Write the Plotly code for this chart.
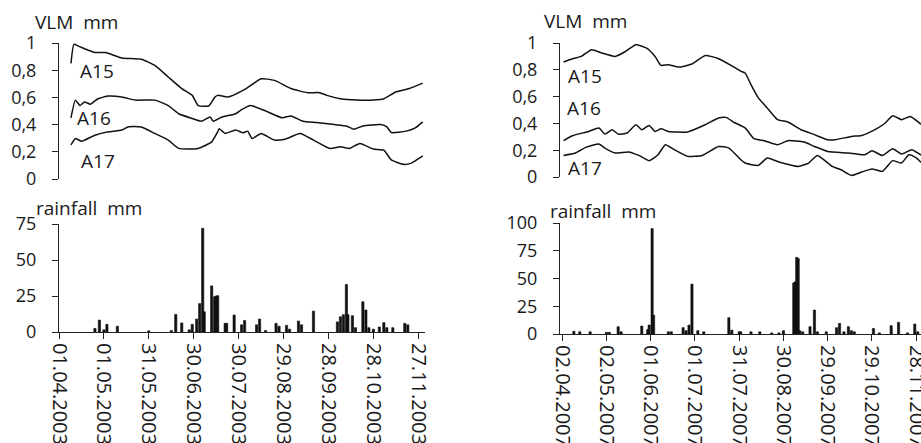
import plotly.graph_objects as go

W, H = 921, 443
FONT = "Open Sans"
INK = "#1a1a1a"

# ---------------- 2003 data ----------------
a15_2003_dates = ["2003-04-09","2003-04-11","2003-04-14","2003-04-21","2003-04-25","2003-05-02","2003-05-13","2003-05-26",
                  "2003-06-04","2003-06-13","2003-06-22","2003-06-29","2003-07-03","2003-07-10","2003-07-14","2003-07-16",
                  "2003-07-23","2003-08-04","2003-08-14","2003-08-23","2003-09-03","2003-09-14","2003-09-22","2003-09-27",
                  "2003-10-06","2003-10-17","2003-10-28","2003-11-04","2003-11-12","2003-11-21","2003-11-30"]
a15_2003 = [0.85,0.99,0.977,0.945,0.93,0.93,0.89,0.88,0.835,0.75,0.665,0.615,0.54,0.537,0.60,0.615,
            0.603,0.665,0.737,0.725,0.665,0.635,0.635,0.615,0.59,0.58,0.58,0.59,0.64,0.665,0.705]

a16_2003_dates = ["2003-04-09","2003-04-12","2003-04-15","2003-04-18","2003-04-22","2003-04-27","2003-05-04","2003-05-13",
                  "2003-05-22","2003-06-04","2003-06-13","2003-06-20","2003-06-29","2003-07-05","2003-07-11","2003-07-13",
                  "2003-07-19","2003-07-28","2003-08-01","2003-08-07","2003-08-16","2003-08-28","2003-09-03","2003-09-11",
                  "2003-09-20","2003-10-02","2003-10-10","2003-10-15","2003-10-21","2003-11-02","2003-11-06","2003-11-09",
                  "2003-11-19","2003-11-25","2003-11-30"]
a16_2003 = [0.45,0.58,0.54,0.567,0.55,0.59,0.61,0.603,0.58,0.58,0.54,0.48,0.445,0.425,0.456,0.425,
            0.456,0.48,0.51,0.54,0.505,0.45,0.464,0.425,0.415,0.40,0.39,0.366,0.39,0.40,0.383,0.342,
            0.352,0.376,0.42]

a17_2003_dates = ["2003-04-09","2003-04-12","2003-04-16","2003-04-25","2003-05-04","2003-05-13","2003-05-17","2003-05-26",
                  "2003-06-04","2003-06-13","2003-06-20","2003-07-03","2003-07-12","2003-07-16","2003-07-17","2003-07-21",
                  "2003-07-28","2003-08-02","2003-08-05","2003-08-08","2003-08-14","2003-08-23","2003-08-30","2003-09-09",
                  "2003-09-18","2003-09-29","2003-10-06","2003-10-12","2003-10-19","2003-10-28","2003-11-04","2003-11-09",
                  "2003-11-17","2003-11-22","2003-11-30"]
a17_2003 = [0.25,0.298,0.278,0.322,0.347,0.36,0.383,0.383,0.335,0.286,0.225,0.225,0.273,0.347,0.37,0.335,
            0.36,0.34,0.352,0.298,0.335,0.286,0.293,0.335,0.286,0.225,0.237,0.225,0.261,0.22,0.212,0.14,
            0.108,0.115,0.17]

rain_2003_dates = ["2003-04-25","2003-04-28","2003-05-01","2003-05-03","2003-05-10","2003-05-31","2003-06-15","2003-06-18",
                   "2003-06-22","2003-06-27","2003-06-29","2003-07-02","2003-07-04","2003-07-06","2003-07-07","2003-07-12",
                   "2003-07-14","2003-07-15","2003-07-16","2003-07-21","2003-07-22","2003-07-27","2003-08-01","2003-08-03",
                   "2003-08-11","2003-08-13","2003-08-17","2003-08-24","2003-08-26","2003-08-31","2003-09-02","2003-09-08",
                   "2003-09-10","2003-09-18","2003-10-04","2003-10-06","2003-10-08","2003-10-10","2003-10-11","2003-10-14",
                   "2003-10-16","2003-10-21","2003-10-23","2003-10-25","2003-10-28","2003-11-01","2003-11-04","2003-11-06",
                   "2003-11-10","2003-11-18","2003-11-20"]
rain_2003 = [2.5,8.3,1.5,5.3,4,0.8,1,12.2,6.3,1.5,5.3,9,19.7,72,14,32,
             24.5,25,25.2,6,6,11.8,5,8,5,9,1,6,4,4.6,2,7.6,
             5,14.5,7,10.6,12,33,12,11.3,3,21,15.3,3,2,3.5,6.5,3,
             3,6,5]

ticks_2003 = ["2003-04-01","2003-05-01","2003-05-31","2003-06-30","2003-07-30","2003-08-29","2003-09-28","2003-10-28","2003-11-27"]
ticklabels_2003 = ["01.04.2003","01.05.2003","31.05.2003","30.06.2003","30.07.2003","29.08.2003","28.09.2003","28.10.2003","27.11.2003"]

# ---------------- 2007 data ----------------
a15_2007_dates = ["2007-04-03","2007-04-09","2007-04-15","2007-04-22","2007-04-29","2007-05-08","2007-05-15","2007-05-22",
                  "2007-05-29","2007-06-04","2007-06-08","2007-06-13","2007-06-20","2007-06-29","2007-07-08","2007-07-17",
                  "2007-07-26","2007-08-01","2007-08-04","2007-08-08","2007-08-13","2007-08-19","2007-08-26","2007-09-02",
                  "2007-09-11","2007-09-20","2007-09-29","2007-10-04","2007-10-15","2007-10-22","2007-10-31","2007-11-07",
                  "2007-11-12","2007-11-18","2007-11-24","2007-12-01","2007-12-03"]
a15_2007 = [0.858,0.883,0.90,0.95,0.925,0.90,0.937,0.987,0.963,0.90,0.833,0.838,0.82,0.843,0.907,0.883,
            0.83,0.79,0.776,0.689,0.59,0.515,0.428,0.41,0.353,0.316,0.278,0.278,0.303,0.31,0.353,0.403,
            0.457,0.428,0.452,0.396,0.38]

a16_2007_dates = ["2007-04-03","2007-04-09","2007-04-20","2007-04-27","2007-05-01","2007-05-06","2007-05-10","2007-05-16",
                  "2007-05-22","2007-05-26","2007-05-31","2007-06-04","2007-06-08","2007-06-13","2007-06-26","2007-07-08",
                  "2007-07-17","2007-07-22","2007-07-28","2007-08-04","2007-08-10","2007-08-17","2007-08-26","2007-09-02",
                  "2007-09-13","2007-09-20","2007-09-29","2007-10-13","2007-10-24","2007-10-29","2007-11-05","2007-11-12",
                  "2007-11-18","2007-11-25","2007-12-01","2007-12-03"]
a16_2007 = [0.271,0.308,0.34,0.366,0.32,0.353,0.32,0.328,0.39,0.353,0.385,0.34,0.36,0.34,0.336,0.39,
            0.44,0.445,0.405,0.366,0.286,0.271,0.241,0.271,0.261,0.228,0.191,0.179,0.166,0.196,0.161,0.211,
            0.172,0.204,0.166,0.16]

a17_2007_dates = ["2007-04-03","2007-04-11","2007-04-18","2007-04-27","2007-05-01","2007-05-08","2007-05-17","2007-05-24",
                  "2007-05-31","2007-06-06","2007-06-11","2007-06-17","2007-06-26","2007-07-06","2007-07-17","2007-07-24",
                  "2007-08-01","2007-08-04","2007-08-13","2007-08-19","2007-08-26","2007-09-09","2007-09-16","2007-09-22",
                  "2007-10-02","2007-10-08","2007-10-15","2007-10-22","2007-10-29","2007-11-05","2007-11-12","2007-11-18",
                  "2007-11-23","2007-11-28","2007-12-01","2007-12-03"]
a17_2007 = [0.161,0.179,0.221,0.246,0.216,0.179,0.187,0.161,0.122,0.166,0.241,0.204,0.154,0.161,0.228,0.216,
            0.13,0.104,0.087,0.142,0.116,0.079,0.104,0.161,0.079,0.054,0.012,0.037,0.06,0.042,0.122,0.104,
            0.166,0.142,0.112,0.10]

rain_2007_dates = ["2007-04-10","2007-04-14","2007-04-21","2007-05-02","2007-05-04","2007-05-10","2007-05-12","2007-05-26",
                   "2007-05-30","2007-05-31","2007-06-02","2007-06-03","2007-06-13","2007-06-15","2007-06-23","2007-06-25",
                   "2007-06-27","2007-06-29","2007-07-03","2007-07-07","2007-07-24","2007-07-26","2007-07-31","2007-08-01",
                   "2007-08-08","2007-08-14","2007-08-22","2007-08-27","2007-08-30","2007-09-06","2007-09-07","2007-09-08",
                   "2007-09-09","2007-09-10","2007-09-12","2007-09-17","2007-09-20","2007-09-22","2007-09-28","2007-10-05",
                   "2007-10-07","2007-10-10","2007-10-13","2007-10-15","2007-10-17","2007-10-30","2007-11-03","2007-11-11",
                   "2007-11-16","2007-11-22","2007-11-27","2007-11-29"]
rain_2007 = [2.5,2,2,1.5,1.5,6.6,2,7.2,4,8.1,95,17,2,2,5.7,3,
             8,45,3,2,14.7,3.5,2,2,2,2,1,1,3,46,47,69,
             68,3,2,6.6,21.6,2,2,5.7,9.6,2,6.6,3,2,5,1,7.5,
             10.5,1,9,2]

ticks_2007 = ["2007-04-02","2007-05-02","2007-06-01","2007-07-01","2007-07-31","2007-08-30","2007-09-29","2007-10-29","2007-11-28"]
ticklabels_2007 = ["02.04.2007","02.05.2007","01.06.2007","01.07.2007","31.07.2007","30.08.2007","29.09.2007","29.10.2007","28.11.2007"]

vlm_ticks = [0, 0.2, 0.4, 0.6, 0.8, 1]
vlm_ticklabels = ["0", "0,2", "0,4", "0,6", "0,8", "1"]
rain_ticks_2003 = [0, 25, 50, 75]
rain_ticks_2007 = [0, 25, 50, 75, 100]

# ---------------- figure ----------------
def px_x(p):
    return p / W

def px_y(p):
    return 1 - p / H

DAY_MS = 86400000
fig = go.Figure()

line_style = dict(color="#111111", width=1.5, shape="spline", smoothing=0.5)
bar_marker = dict(color="#111111", line=dict(width=0.6, color="#111111"))
for d, v in [(a15_2003_dates, a15_2003), (a16_2003_dates, a16_2003), (a17_2003_dates, a17_2003)]:
    fig.add_trace(go.Scatter(x=d, y=v, mode="lines", line=line_style, xaxis="x", yaxis="y", showlegend=False))
fig.add_trace(go.Bar(x=rain_2003_dates, y=rain_2003, width=1.5 * DAY_MS, marker=bar_marker,
                     xaxis="x2", yaxis="y2", showlegend=False))
for d, v in [(a15_2007_dates, a15_2007), (a16_2007_dates, a16_2007), (a17_2007_dates, a17_2007)]:
    fig.add_trace(go.Scatter(x=d, y=v, mode="lines", line=line_style, xaxis="x3", yaxis="y3", showlegend=False))
fig.add_trace(go.Bar(x=rain_2007_dates, y=rain_2007, width=1.5 * DAY_MS, marker=bar_marker,
                     xaxis="x4", yaxis="y4", showlegend=False))

left_dom = [px_x(59), px_x(425)]
right_dom = [px_x(560), 1.0]
range_2003 = ["2003-04-01", "2003-12-01 12:00"]
range_2007 = ["2007-03-31 14:00", "2007-12-01 05:00"]

tickfont = dict(family=FONT, size=18, color=INK)
xtickfont = dict(family=FONT, size=20, color=INK)

def yax(domain, rng, tv, tt, anchor):
    return dict(domain=domain, range=rng, tickvals=tv, ticktext=tt, showline=True, linecolor="#222222",
                linewidth=1, ticks="outside", ticklen=6, tickcolor="#222222", showgrid=False, zeroline=False,
                tickfont=tickfont, anchor=anchor, automargin=False, ticklabelstandoff=12, fixedrange=True)

def xax_hidden(domain, rng, anchor):
    return dict(domain=domain, range=rng, type="date", visible=False, anchor=anchor, automargin=False)

def xax(domain, rng, tv, tt, anchor):
    return dict(domain=domain, range=rng, type="date", tickvals=tv, ticktext=tt, tickangle=90,
                showline=True, linecolor="#222222", linewidth=1, ticks="outside", ticklen=6, tickcolor="#222222",
                showgrid=False, zeroline=False, tickfont=xtickfont, anchor=anchor, automargin=False,
                ticklabeloverflow="allow")

fig.update_layout(
    width=W, height=H, margin=dict(l=0, r=0, t=0, b=0),
    paper_bgcolor="white", plot_bgcolor="white",
    template="none", bargap=0,
    xaxis=xax_hidden(left_dom, range_2003, "y"),
    yaxis=yax([px_y(179), px_y(43)], [0, 1], vlm_ticks, vlm_ticklabels, "x"),
    xaxis2=xax(left_dom, range_2003, ticks_2003, ticklabels_2003, "y2"),
    yaxis2=yax([px_y(332), px_y(224)], [0, 75], rain_ticks_2003, [str(t) for t in rain_ticks_2003], "x2"),
    xaxis3=xax_hidden(right_dom, range_2007, "y3"),
    yaxis3=yax([px_y(177), px_y(43)], [0, 1], vlm_ticks, vlm_ticklabels, "x3"),
    xaxis4=xax(right_dom, range_2007, ticks_2007, ticklabels_2007, "y4"),
    yaxis4=yax([px_y(334), px_y(223)], [0, 100], rain_ticks_2007, [str(t) for t in rain_ticks_2007], "x4"),
)

labels = [
    ("VLM  mm", 33, 22),
    ("rainfall  mm", 34, 208),
    ("VLM  mm", 542, 21),
    ("rainfall  mm", 548, 211),
    ("A15", 78, 71),
    ("A16", 75, 118),
    ("A17", 79, 161),
    ("A15", 566, 76),
    ("A16", 565, 108),
    ("A17", 566, 168),
]
for text, x, y in labels:
    fig.add_annotation(text=text, x=px_x(x), y=px_y(y), xref="paper", yref="paper", xanchor="left", yanchor="middle",
                       showarrow=False, font=dict(family=FONT, size=19, color=INK))

fig.write_html("out.html", config={"displayModeBar": False, "staticPlot": True},
               post_script="document.body.style.margin='0px';document.body.style.overflow='hidden';")
